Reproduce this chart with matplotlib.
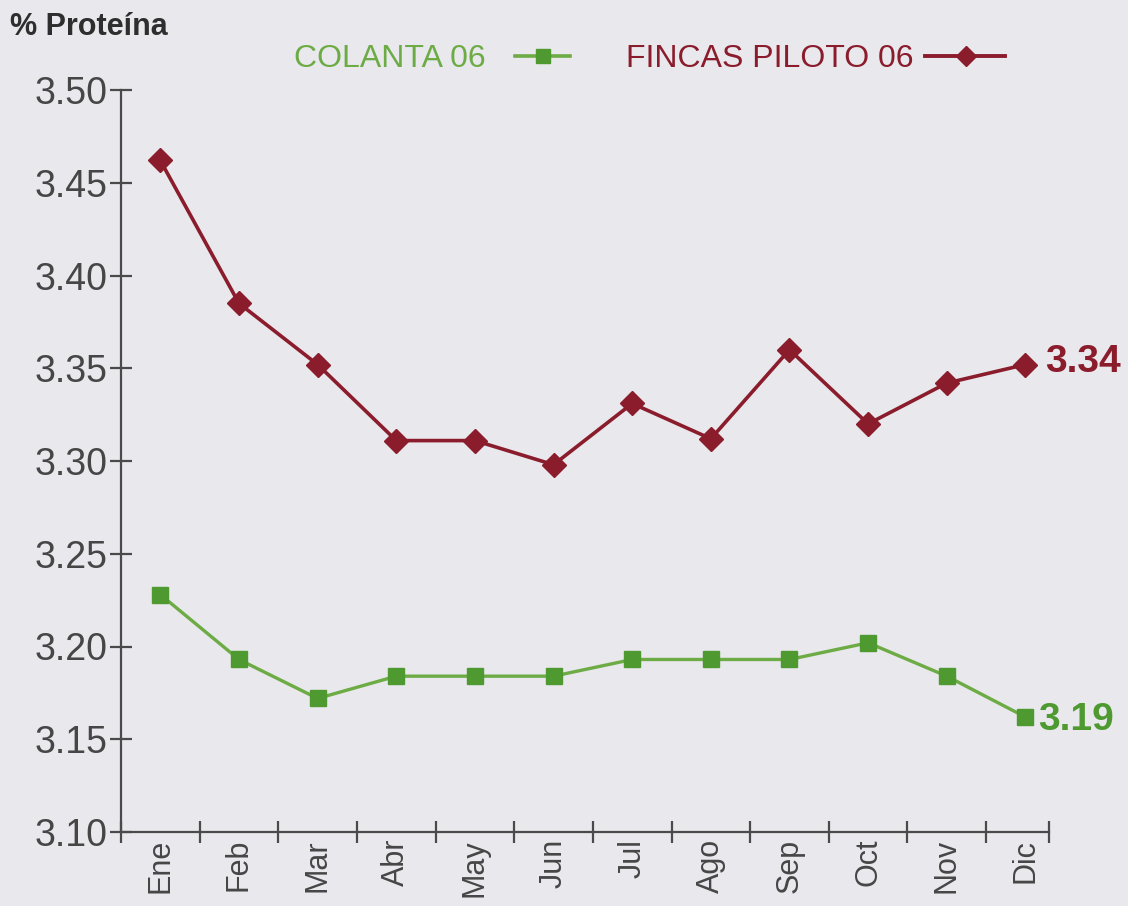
import matplotlib
matplotlib.use("Agg")
import matplotlib.pyplot as plt
from matplotlib.lines import Line2D
import numpy as np

months = ["Ene", "Feb", "Mar", "Abr", "May", "Jun", "Jul", "Ago", "Sep", "Oct", "Nov", "Dic"]
colanta = [3.228, 3.193, 3.172, 3.184, 3.184, 3.184, 3.193, 3.193, 3.193, 3.202, 3.184, 3.162]
fincas = [3.462, 3.385, 3.352, 3.311, 3.311, 3.298, 3.331, 3.312, 3.360, 3.320, 3.342, 3.352]
yticks = [3.10, 3.15, 3.20, 3.25, 3.30, 3.35, 3.40, 3.45, 3.50]
label_colanta = "3.19"
label_fincas = "3.34"
series_names = ["COLANTA 06", "FINCAS PILOTO 06"]

GREEN_LINE = "#6dab45"
GREEN_MARK = "#4f9a30"
RED = "#8a1c2c"
BG = "#e8e8ed"
AXC = "#4a4a4a"
TXT = "#464646"

plt.rcParams["font.family"] = ["Liberation Sans", "DejaVu Sans"]

W, H = 1128, 906
fig = plt.figure(figsize=(W / 100, H / 100), dpi=100, facecolor=BG)
ax = fig.add_axes([121 / W, 1 - 832 / H, (1049 - 121) / W, (832 - 90) / H])
ax.set_facecolor(BG)

x = np.arange(len(months))
ax.plot(x, colanta, color=GREEN_LINE, lw=2.4, marker="s", ms=11,
        mfc=GREEN_MARK, mec=GREEN_MARK, zorder=3)
ax.plot(x, fincas, color=RED, lw=2.6, marker="D", ms=12,
        mfc=RED, mec=RED, zorder=3)

ax.set_xlim(-0.5, 11.3)
ax.set_ylim(3.10, 3.50)
for s in ["top", "right"]:
    ax.spines[s].set_visible(False)
for s in ["left", "bottom"]:
    ax.spines[s].set_color(AXC)
    ax.spines[s].set_linewidth(1.6)

ax.set_yticks(yticks)
ax.set_yticklabels([f"{v:.2f}" for v in yticks])
ax.tick_params(axis="y", direction="inout", length=16, width=1.6, color=AXC,
               labelsize=27, labelcolor=TXT, pad=2)

ax.set_xticks(x)
ax.set_xticklabels(months, rotation=90)
ax.tick_params(axis="x", which="major", length=0, labelsize=22,
               labelcolor=TXT, pad=5)
bounds = list(np.arange(-0.5, 11.0, 1.0)) + [11.3]
ax.set_xticks(bounds, minor=True)
ax.tick_params(axis="x", which="minor", direction="inout", length=16,
               width=1.6, color=AXC)

# End labels
ax.annotate(label_fincas, xy=(x[-1], fincas[-1]), xytext=(14, 2),
            textcoords="offset points", va="center", ha="left",
            fontsize=28, fontweight="bold", color=RED, annotation_clip=False)
ax.annotate(label_colanta, xy=(x[-1], colanta[-1]), xytext=(9, -2),
            textcoords="offset points", va="center", ha="left",
            fontsize=28, fontweight="bold", color=GREEN_MARK, annotation_clip=False)

# Title
fig.text(10 / W, 1 - 35 / H, "% Proteína", fontsize=22, fontweight="bold",
         color="#2e2e2e", va="baseline", ha="left")

# Legend (manual, text before the marker)
fig.text(390 / W, 1 - 67 / H, series_names[0], fontsize=23, color=GREEN_LINE,
         va="baseline", ha="center")
fig.add_artist(Line2D([515 / W, 570 / W], [1 - 56 / H] * 2, transform=fig.transFigure,
                      color=GREEN_LINE, lw=2.6))
fig.add_artist(Line2D([543 / W], [1 - 56 / H], transform=fig.transFigure,
                      marker="s", ms=10, mfc=GREEN_MARK, mec=GREEN_MARK, lw=0))
fig.text(770 / W, 1 - 67 / H, series_names[1], fontsize=23, color=RED,
         va="baseline", ha="center")
fig.add_artist(Line2D([925 / W, 1005 / W], [1 - 56 / H] * 2, transform=fig.transFigure,
                      color=RED, lw=2.8))
fig.add_artist(Line2D([966 / W], [1 - 56 / H], transform=fig.transFigure,
                      marker="D", ms=10, mfc=RED, mec=RED, lw=0))

fig.savefig("out.png", dpi=100, facecolor=BG)
